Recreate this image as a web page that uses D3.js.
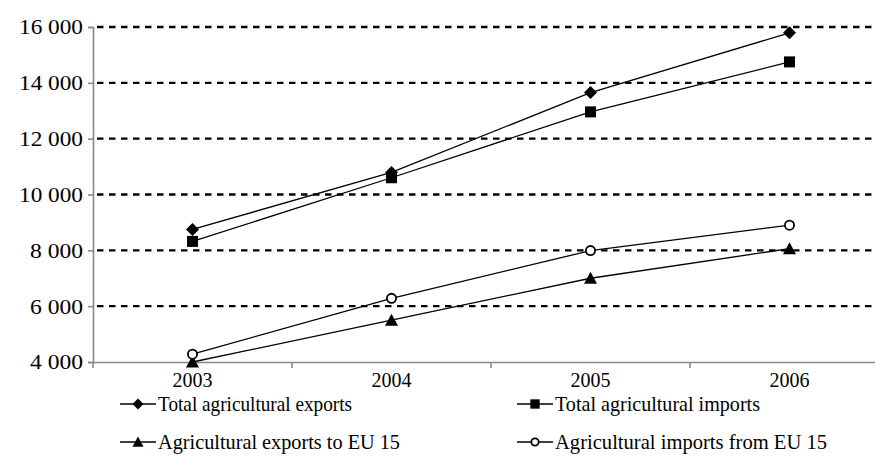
<!DOCTYPE html>
<html>
<head>
<meta charset="utf-8">
<script src="https://cdn.jsdelivr.net/npm/d3@7"></script>
<style>
  html, body { margin: 0; padding: 0; background: #fff; }
  svg { display: block; }
  svg text { font-family: "Liberation Serif", "Times New Roman", serif; }
</style>
</head>
<body>
<svg id="chart" width="875" height="475"></svg>
<script>
// Years on the category axis
const years = ["2003", "2004", "2005", "2006"];

// Series values (millions)
const totalExports = [8750, 10790, 13650, 15790];
const totalImports = [8320, 10600, 12960, 14750];
const exportsEU15 = [4000, 5500, 7000, 8060];
const importsEU15 = [4280, 6280, 7990, 8900];

// Value axis ticks
const yTicks = [4000, 6000, 8000, 10000, 12000, 14000, 16000];

const seriesNames = [
  "Total agricultural exports",
  "Total agricultural imports",
  "Agricultural exports to EU 15",
  "Agricultural imports from EU 15"
];

const series = [
  { name: seriesNames[0], values: totalExports, marker: "diamond" },
  { name: seriesNames[1], values: totalImports, marker: "square" },
  { name: seriesNames[2], values: exportsEU15, marker: "triangle" },
  { name: seriesNames[3], values: importsEU15, marker: "circle" }
];

const svg = d3.select("#chart");
const plotLeft = 93, plotRight = 889, plotTop = 27, plotBottom = 362;

const x = d3.scaleBand().domain(years).range([plotLeft, plotRight]);
const y = d3.scaleLinear().domain([4000, 16000]).range([plotBottom, plotTop]);
const fmt = v => d3.format(",")(v).replace(",", " ");

// Dashed gridlines
svg.append("g")
  .selectAll("line")
  .data(yTicks.filter(t => t > 4000))
  .join("line")
  .attr("x1", plotLeft).attr("x2", 875)
  .attr("y1", d => y(d)).attr("y2", d => y(d))
  .attr("stroke", "#000")
  .attr("stroke-width", 2.3)
  .attr("stroke-dasharray", "6.5,5.5")
  .attr("stroke-dashoffset", -4);

// Value axis
const yAxis = svg.append("g")
  .attr("transform", `translate(${plotLeft},0)`)
  .call(d3.axisLeft(y).tickValues(yTicks).tickFormat(fmt).tickSize(5).tickPadding(5));
yAxis.attr("font-family", null).attr("font-size", null);
yAxis.select(".domain").attr("stroke", "#888").attr("stroke-width", 1.6);
yAxis.selectAll(".tick line").attr("stroke", "#888").attr("stroke-width", 1.6);
yAxis.selectAll(".tick text")
  .style("font-family", "'Liberation Serif', serif")
  .style("font-size", "21px")
  .attr("fill", "#000")
  .attr("dy", "0.33em")
  .attr("textLength", 64)
  .attr("lengthAdjust", "spacingAndGlyphs")
  .filter(d => d < 10000)
  .attr("textLength", 53);

// Category axis
const xAxis = svg.append("g")
  .attr("transform", `translate(0,${plotBottom})`)
  .call(d3.axisBottom(x).tickSize(0).tickPadding(11));
xAxis.attr("font-family", null).attr("font-size", null);
xAxis.select(".domain").attr("stroke", "#888").attr("stroke-width", 1.6);
xAxis.selectAll(".tick text")
  .style("font-family", "'Liberation Serif', serif")
  .style("font-size", "20px")
  .attr("fill", "#000");
// band boundary ticks
svg.append("g")
  .selectAll("line")
  .data(years)
  .join("line")
  .attr("x1", d => x(d) + x.bandwidth()).attr("x2", d => x(d) + x.bandwidth())
  .attr("y1", plotBottom).attr("y2", plotBottom + 6)
  .attr("stroke", "#888").attr("stroke-width", 1.6);
svg.append("line")
  .attr("x1", plotLeft).attr("x2", plotLeft).attr("y1", plotBottom).attr("y2", plotBottom + 6)
  .attr("stroke", "#888").attr("stroke-width", 1.6);

const cx = d => x(d) + x.bandwidth() / 2;

function drawMarker(g, type, px, py, scale) {
  const s = scale || 1;
  if (type === "diamond") {
    const r = 6.5 * s;
    g.append("path")
      .attr("d", `M${px},${py - r}L${px + r},${py}L${px},${py + r}L${px - r},${py}Z`)
      .attr("fill", "#000");
  } else if (type === "square") {
    const h = 5.5 * s;
    g.append("rect").attr("x", px - h).attr("y", py - h)
      .attr("width", 2 * h).attr("height", 2 * h).attr("fill", "#000");
  } else if (type === "triangle") {
    const h = 6.5 * s;
    g.append("path")
      .attr("d", `M${px},${py - h}L${px + h},${py + h * 0.85}L${px - h},${py + h * 0.85}Z`)
      .attr("fill", "#000");
  } else {
    g.append("circle").attr("cx", px).attr("cy", py).attr("r", 4.6 * s)
      .attr("fill", "#fff").attr("stroke", "#000").attr("stroke-width", 1.8);
  }
}

const line = d3.line().x((d, i) => cx(years[i])).y(d => y(d));

series.forEach(s => {
  const g = svg.append("g");
  g.append("path")
    .attr("d", line(s.values))
    .attr("fill", "none")
    .attr("stroke", "#000")
    .attr("stroke-width", 1.3);
  s.values.forEach((v, i) => drawMarker(g, s.marker, cx(years[i]), y(v)));
});

// Legend
const legendPos = [
  { lx: 120, ly: 404, w: 194 },
  { lx: 517, ly: 404, w: 205 },
  { lx: 120, ly: 442, w: 242 },
  { lx: 517, ly: 442, w: 272 }
];
series.forEach((s, i) => {
  const p = legendPos[i];
  const g = svg.append("g");
  g.append("line")
    .attr("x1", p.lx).attr("x2", p.lx + 36)
    .attr("y1", p.ly).attr("y2", p.ly)
    .attr("stroke", "#000").attr("stroke-width", 1.3);
  drawMarker(g, s.marker, p.lx + 18, p.ly, s.marker === "circle" ? 0.8 : 0.85);
  g.append("text")
    .attr("x", p.lx + 38)
    .attr("y", p.ly + 7)
    .style("font-size", "21px")
    .attr("fill", "#000")
    .attr("textLength", p.w)
    .attr("lengthAdjust", "spacingAndGlyphs")
    .text(s.name);
});
</script>
</body>
</html>
